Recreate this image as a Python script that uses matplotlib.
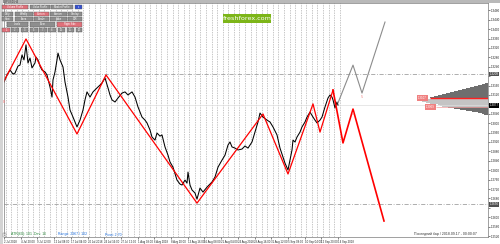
import numpy as np
import matplotlib.pyplot as plt
from matplotlib import font_manager
from matplotlib.patches import Rectangle

# GBPUSD H4, 2 Jul - 14 Sep 2018 (one unit on x = one H4 bar)
price_bar = [0, 3, 6, 9, 11, 14, 16, 18, 20, 22, 24, 26, 28, 31, 32, 34, 36, 38, 41, 43,
             46, 48, 49, 51, 53, 54, 56, 59, 61, 64, 66, 69, 73, 76, 79, 81, 83, 86, 89, 93,
             96, 98, 101, 104, 106, 108, 111, 114, 118, 121, 124, 128, 131, 134, 138, 141, 143, 146, 148, 151,
             153, 156, 158, 161, 164, 166, 169, 173, 176, 178, 181, 183, 184, 186, 188, 191, 193, 196, 199, 203,
             206, 208, 211, 214, 218, 221, 224, 226, 228, 231, 234, 238, 241, 244, 248, 251, 254, 256, 259, 263,
             266, 269, 273, 276, 279, 281, 284, 286, 288, 289, 291, 293, 296, 298, 301, 303, 306, 309, 311, 313,
             316, 318, 321, 324, 326, 328, 329, 331, 333, 334]
price_close = [1.3175, 1.3205, 1.3226, 1.3209, 1.3213, 1.3243, 1.3247, 1.3290, 1.3269, 1.3333,
               1.3256, 1.3277, 1.3235, 1.3256, 1.3281, 1.3269, 1.3243, 1.3226, 1.3218, 1.3205,
               1.3154, 1.3111, 1.3184, 1.3218, 1.3269, 1.3298, 1.3269, 1.3239, 1.3175, 1.3111,
               1.3056, 1.3026, 1.2984, 1.3013, 1.3056, 1.3099, 1.3133, 1.3111, 1.3133, 1.3150,
               1.3162, 1.3171, 1.3192, 1.3150, 1.3120, 1.3099, 1.3090, 1.3107, 1.3128, 1.3133,
               1.3120, 1.3133, 1.3111, 1.3069, 1.3026, 1.3013, 1.3001, 1.2971, 1.2941, 1.2928,
               1.2958, 1.2945, 1.2950, 1.2899, 1.2864, 1.2835, 1.2813, 1.2758, 1.2741, 1.2737,
               1.2758, 1.2745, 1.2792, 1.2737, 1.2716, 1.2703, 1.2677, 1.2724, 1.2707, 1.2728,
               1.2741, 1.2750, 1.2771, 1.2813, 1.2843, 1.2864, 1.2907, 1.2920, 1.2899, 1.2894,
               1.2886, 1.2890, 1.2903, 1.2894, 1.2920, 1.2962, 1.3005, 1.3043, 1.3026, 1.3013,
               1.3005, 1.2984, 1.2950, 1.2894, 1.2856, 1.2830, 1.2801, 1.2843, 1.2886, 1.2928,
               1.2920, 1.2941, 1.2962, 1.2984, 1.3005, 1.3026, 1.3047, 1.3026, 1.3013, 1.3001,
               1.3013, 1.3026, 1.3069, 1.3107, 1.3120, 1.3111, 1.3099, 1.3065, 1.3090, 1.3077]

# zigzag and the two projections
zz_bar = [0, 22, 73, 102, 193, 259, 284, 309, 316, 329]
zz_price = [1.3179, 1.3358, 1.2954, 1.3205, 1.2660, 1.3039, 1.2784, 1.3082, 1.2962, 1.3141]
proj_red_bar = [329, 339, 349, 380]
proj_red_price = [1.3141, 1.2916, 1.3060, 1.2584]
proj_gray_bar = [334, 349, 358, 381]
proj_gray_price = [1.3086, 1.3247, 1.3128, 1.3430]

levels = [1.3209, 1.2656]
bid = 1.3077
poc = 1.3107
va_low = 1.3069

# volume profile, top bin first
prof_top = 1.3167
prof_width = [3, 6, 10, 14, 18, 22, 26, 30, 34, 38, 42, 46, 50, 54, 58, 50,
              60, 64, 66, 62, 58, 50, 48, 46, 40, 34, 28, 22, 16, 10, 6, 4]
prof_dark = [1, 1, 1, 1, 1, 1, 1, 1, 1, 1, 1, 1, 1, 1, 1, 0,
             0, 0, 0, 0, 0, 0, 0, 0, 1, 1, 1, 1, 1, 1, 1, 1]

time_labels = ['2 Jul 2018', '4 Jul 20:00', '9 Jul 12:00', '12 Jul 08:00', '17 Jul 04:00',
               '20 Jul 2018', '24 Jul 16:00', '27 Jul 12:00', '1 Aug 08:00', '6 Aug 2018',
               '8 Aug 20:00', '13 Aug 16:00', '16 Aug 08:00', '21 Aug 04:00', '24 Aug 2018',
               '28 Aug 16:00', '31 Aug 12:00', '5 Sep 08:00', '10 Sep 04:00', '12 Sep 20:00',
               '14 Sep 2018']

buttons = [
    ['Volume Profile', 'Value Profile', 'Market Profile', 'x'],
    ['Daily', 'Weekly', 'Custom', 'Session', 'Overlay'],
    ['Heat', 'Area', 'Border', 'Spike', 'DIR'],
    ['Levels', 'Clear', 'Right Side'],
    ['1', '2', '3', '5', '7', '8', '10', '15', '20'],
]

W, H = 500, 244
def fx(px):
    return px / W
def fy(py):
    return 1 - py / H

installed = {f.name for f in font_manager.fontManager.ttflist}
narrow = ['Liberation Sans Narrow' if 'Liberation Sans Narrow' in installed else 'Liberation Sans', 'DejaVu Sans']

fig = plt.figure(figsize=(5, 2.44), dpi=100)
fig.patch.set_facecolor('white')
fig.add_artist(Rectangle((0, fy(2.5)), 1, 2.5 / H, transform=fig.transFigure, color='#b9b9b9', lw=0))
fig.add_artist(Rectangle((0, 0), fx(3), 1, transform=fig.transFigure, color='#d4d4d4', lw=0))
fig.text(fx(3), fy(1.3), 'GBPUSD,H4', fontsize=2.0, color='#333333', va='center', family=narrow)

ax = fig.add_axes([fx(4), fy(237), fx(488) - fx(4), fy(3) - fy(237)])
ax.set_xlim(0, 484)
ax.set_ylim(1.2516, 1.3511)

# grid
ax.vlines(np.arange(1.5, 340, 5.57), 1.2516, 1.3511, colors='#b0b0b0', linestyles=(0, (2, 1.5)), lw=0.5)
for lv in levels:
    ax.axhline(lv, color='#a0a0a0', lw=0.6, ls=(0, (5, 2, 1, 2)))
ax.axhline(bid, color='#dddddd', lw=0.5)

# volume profile
nb = len(prof_width)
prof_levels = prof_top - 0.0004255 * np.arange(nb)
pw = np.array(prof_width)
cols = ['#6e6e6e' if d else '#c4c4c4' for d in prof_dark]
ax.barh(prof_levels, pw, left=484 - pw, height=0.0004255, color=cols, lw=0)
ax.hlines(poc, 426, 484, color='#ff2020', lw=1.0)
ax.hlines(va_low, 432, 484, color='#f4a0a0', lw=0.5)
for lv, x0 in [(poc, 414), (va_low, 422)]:
    ax.text(x0, lv, f'{lv:.4f}', fontsize=2.1, color='white', va='center', ha='left', family=narrow,
            bbox=dict(boxstyle='square,pad=0.25', fc='#f08080', ec='none'))

# price, zigzag, projections
ax.plot(price_bar, price_close, color='black', lw=0.75)
ax.plot(zz_bar, zz_price, color='#ff0000', lw=0.9)
ax.plot(proj_red_bar, proj_red_price, color='#ff0000', lw=1.2)
ax.plot(proj_gray_bar, proj_gray_price, color='#8c8c8c', lw=0.8)
ax.text(349, 1.3040, '0', fontsize=2.4, color='#f08080', ha='center', va='center')
ax.text(358, 1.3110, '5', fontsize=2.4, color='#f08080', ha='center', va='center')
ax.text(-2, 1.3088, '59', fontsize=2.4, color='#f08080', ha='left', va='center')

# axes; tick labels hidden where a price box sits on the axis
boxed = [levels[0], levels[1], bid]
ax.yaxis.tick_right()
yt = np.arange(1.2520, 1.34801, 0.0040)
ax.set_yticks(yt)
ax.set_yticklabels(['' if min(abs(v - b) for b in boxed) < 0.0022 else f'{v:.4f}' for v in yt],
                   family=narrow)
ax.tick_params(axis='y', length=1.2, width=0.4, pad=0.6, labelsize=2.2, colors='#222222')
ax.set_xticks(np.arange(len(time_labels)) * 16.7)
ax.set_xticklabels(time_labels, family=narrow, ha='left')
ax.tick_params(axis='x', length=1.5, width=0.4, pad=0.8, labelsize=2.0, colors='#222222')
for s in ax.spines.values():
    s.set_color('#7a7a7a')
    s.set_linewidth(0.5)

# price boxes on the right axis
for lv, fc in [(levels[0], '#505050'), (levels[1], '#505050'), (bid, '#000000')]:
    ax.text(485.6, lv, f'{lv:.4f}', fontsize=2.2, color='white', va='center', ha='left', family=narrow,
            bbox=dict(boxstyle='square,pad=0.15', fc=fc, ec='none'), clip_on=False, zorder=5)

# watermark
fig.add_artist(Rectangle((fx(223), fy(23)), 48 / W, 9 / H, transform=fig.transFigure, color='#7cb518', lw=0))
fig.text(fx(247), fy(18.5), 'freshforex.com', fontsize=4.6, color='white', ha='center', va='center')

# button panel
rows = [
    (4.7, 9.3, [(2, 28), (30, 50), (51, 73), (75, 82)], [0, 1, 1, 2]),
    (12, 16.3, [(2, 13), (15, 33), (34, 49), (50, 67), (68, 82)], [1, 1, 0, 1, 1]),
    (16.7, 21, [(2, 13), (15, 33), (34, 49), (50, 67), (68, 82)], [1, 1, 1, 1, 1]),
    (22, 26.7, [(7, 28), (30, 55), (57, 82)], [1, 1, 0]),
    (28, 32.3, [(2, 10), (11, 19), (21, 28), (30, 38), (39, 47), (48, 56), (58, 65), (67, 74), (76, 82)],
     [0, 1, 1, 1, 1, 1, 1, 1, 1]),
]
btn_col = {0: '#e0707a', 1: '#8e8e8e', 2: '#3550d0'}
for (y0, y1, spans, kinds), names in zip(rows, buttons):
    for (x0, x1), k, name in zip(spans, kinds, names):
        fig.add_artist(Rectangle((fx(x0), fy(y1)), (x1 - x0) / W, (y1 - y0) / H, transform=fig.transFigure,
                                 fc=btn_col[k], ec='#5a5a5a', lw=0.3))
        fig.text(fx((x0 + x1) / 2), fy((y0 + y1) / 2), name, fontsize=1.8, color='white',
                 ha='center', va='center', family=narrow)

# footer texts
fig.add_artist(Rectangle((fx(3), fy(237)), 3 / W, 4.5 / H, transform=fig.transFigure, fc='white', ec='#777777', lw=0.3))
fig.text(fx(4.5), fy(234.8), '1', fontsize=1.8, ha='center', va='center', family=narrow)
fig.text(fx(11), fy(234.5), 'ATR(60): 101  Dev: 16', fontsize=2.5, color='#2e8b3e', va='center', family=narrow)
fig.text(fx(58), fy(234.5), 'Range: 2967 / 102', fontsize=2.5, color='#1e70e0', va='center', family=narrow)
fig.text(fx(105), fy(234.5), 'Pivot: 2.70', fontsize=2.5, color='#1e70e0', va='center', family=narrow)
fig.text(fx(477), fy(234.5), 'Последний бар / 2018.09.17 - 00:00:07', fontsize=2.5, color='#333333',
         ha='right', va='center', family=narrow)

fig.savefig('out.png', dpi=100)
